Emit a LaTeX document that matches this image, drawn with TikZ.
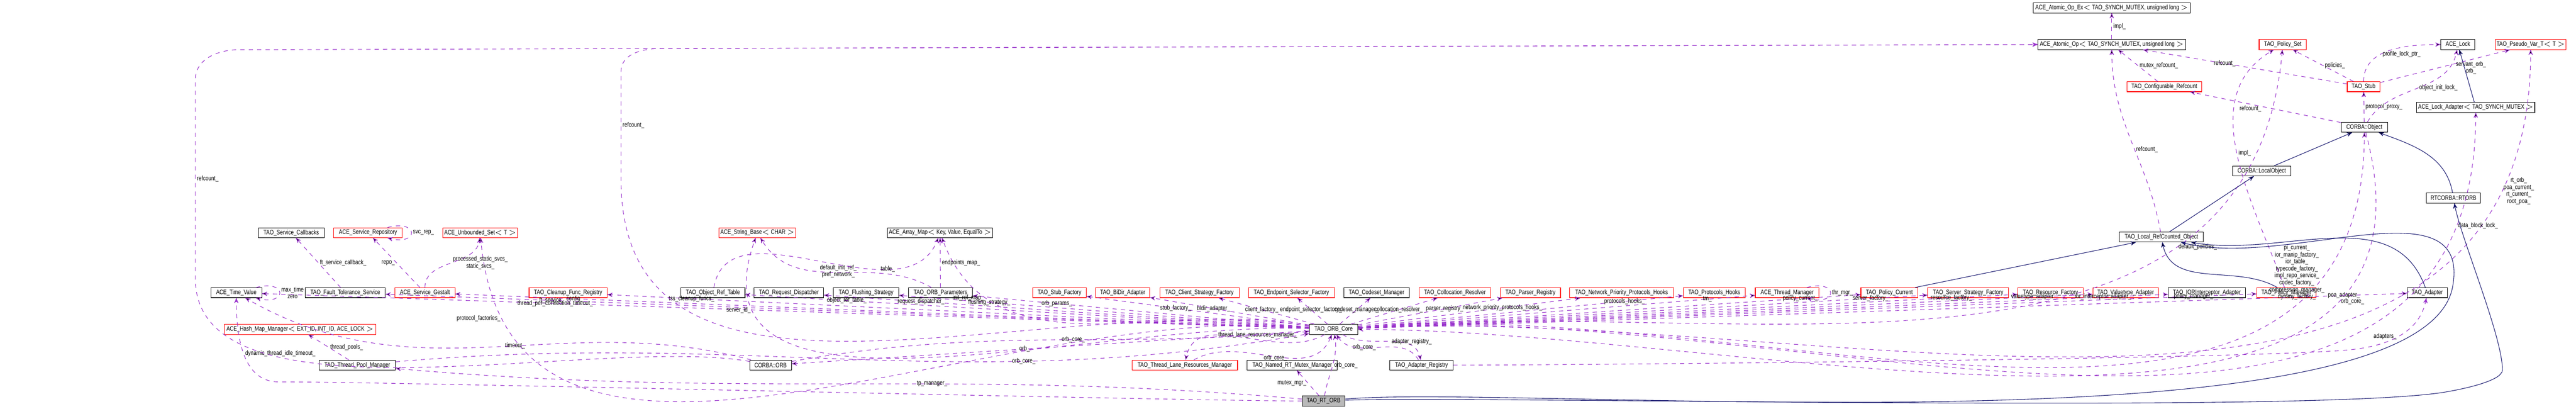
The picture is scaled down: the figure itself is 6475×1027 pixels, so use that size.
\documentclass[tikz,border=0pt]{standalone}
\usepackage{fontspec}
\setmainfont[FakeStretch=0.8]{Liberation Sans}
\usetikzlibrary{arrows,positioning,calc}
\definecolor{usecol}{RGB}{153,51,204}
\definecolor{inhcol}{RGB}{25,25,112}

\begin{document}
\begin{tikzpicture}[x=0.01cm,y=-0.01cm,
  cls/.style={draw,rectangle,fill=white,minimum height=0.25cm,inner sep=1pt,font=\fontsize{4.6}{5}\selectfont},
  clsblk/.style={cls,draw=black},
  clsred/.style={cls,draw=red},
  clsme/.style={cls,draw=black,fill=gray!55},
  use/.style={draw=usecol,dashed,thin,-stealth'},
  inh/.style={draw=inhcol,thin,-stealth'},
  lbl/.style={font=\fontsize{4.6}{5}\selectfont,align=center,inner sep=1pt,text=black}
]
\useasboundingbox (0,0) rectangle (6475,1027);

% top row
\node[clsblk,minimum width=1.66cm] at (732,585) (SvcCb) {TAO\_Service\_Callbacks};
\node[clsred,minimum width=1.72cm] at (925,585) (SvcRepo) {ACE\_Service\_Repository};
\node[clsred,minimum width=1.84cm] at (1207,585) (USet) {ACE\_Unbounded\_Set$<$ T $>$};
\node[clsred,minimum width=1.90cm] at (1904,585) (StrBase) {ACE\_String\_Base$<$ CHAR $>$};
\node[clsblk,minimum width=2.64cm] at (2363,585) (ArrMap) {ACE\_Array\_Map$<$ Key, Value, EqualTo $>$};

% middle row
\node[clsblk,minimum width=1.28cm] at (594,736) (TimeVal) {ACE\_Time\_Value};
\node[clsblk,minimum width=2.01cm] at (868,736) (FtSvc) {TAO\_Fault\_Tolerance\_Service};
\node[clsred,minimum width=1.51cm] at (1068,736) (Gestalt) {ACE\_Service\_Gestalt};
\node[clsred,minimum width=1.96cm] at (1428,736) (Cleanup) {TAO\_Cleanup\_Func\_Registry};
\node[clsblk,minimum width=1.61cm] at (1792,736) (ObjRef) {TAO\_Object\_Ref\_Table};
\node[clsblk,minimum width=1.75cm] at (1983,736) (ReqDisp) {TAO\_Request\_Dispatcher};
\node[clsblk,minimum width=1.64cm] at (2177,736) (Flush) {TAO\_Flushing\_Strategy};
\node[clsblk,minimum width=1.61cm] at (2364,736) (OrbPar) {TAO\_ORB\_Parameters};
\node[clsred,minimum width=1.35cm] at (2663,736) (StubF) {TAO\_Stub\_Factory};
\node[clsred,minimum width=1.36cm] at (2822,736) (BiDir) {TAO\_BiDir\_Adapter};
\node[clsred,minimum width=1.99cm] at (3015,736) (CliStr) {TAO\_Client\_Strategy\_Factory};
\node[clsred,minimum width=2.16cm] at (3246,736) (EndSel) {TAO\_Endpoint\_Selector\_Factory};
\node[clsblk,minimum width=1.64cm] at (3460,736) (Codeset) {TAO\_Codeset\_Manager};
\node[clsred,minimum width=1.81cm] at (3657,736) (Colloc) {TAO\_Collocation\_Resolver};
\node[clsred,minimum width=1.51cm] at (3847,736) (Parser) {TAO\_Parser\_Registry};
\node[clsred,minimum width=2.62cm] at (4076,736) (NetPri) {TAO\_Network\_Priority\_Protocols\_Hooks};
\node[clsred,minimum width=1.56cm] at (4309,736) (ProtHk) {TAO\_Protocols\_Hooks};
\node[clsred,minimum width=1.60cm] at (4492,736) (ThrMgr) {ACE\_Thread\_Manager};
\node[clsred,minimum width=1.43cm] at (4749,736) (PolCur) {TAO\_Policy\_Current};
\node[clsred,minimum width=2.03cm] at (4947,736) (SrvStr) {TAO\_Server\_Strategy\_Factory};
\node[clsred,minimum width=1.65cm] at (5154,736) (ResF) {TAO\_Resource\_Factory};
\node[clsred,minimum width=1.65cm] at (5343,736) (ValT) {TAO\_Valuetype\_Adapter};
\node[clsblk,minimum width=1.94cm] at (5547,736) (IorInt) {TAO\_IORInterceptor\_Adapter};
\node[clsred,minimum width=1.49cm] at (5747,736) (PolMgr) {TAO\_Policy\_Manager};
\node[clsblk,minimum width=1.01cm] at (6101,736) (Adapter) {TAO\_Adapter};

% core rows
\node[clsred,minimum width=3.80cm] at (754,828) (HashMap) {ACE\_Hash\_Map\_Manager$<$ EXT\_ID, INT\_ID, ACE\_LOCK $>$};
\node[clsblk,minimum width=1.22cm] at (3352,828) (OrbCore) {TAO\_ORB\_Core};
\node[clsblk,minimum width=1.92cm] at (898,918) (TPool) {TAO\_Thread\_Pool\_Manager};
\node[clsblk,minimum width=1.05cm] at (1937,918) (CorbaOrb) {CORBA::ORB};
\node[clsred,minimum width=2.65cm] at (2978,918) (TLane) {TAO\_Thread\_Lane\_Resources\_Manager};
\node[clsblk,minimum width=2.27cm] at (3248,918) (NamedMx) {TAO\_Named\_RT\_Mutex\_Manager};
\node[clsblk,minimum width=1.59cm] at (3573,918) (AdReg) {TAO\_Adapter\_Registry};
\node[clsme,minimum width=1.08cm] at (3327,1008) (RtOrb) {TAO\_RT\_ORB};

% upper right
\node[clsblk,minimum width=3.94cm] at (5308,20) (AtomEx) {ACE\_Atomic\_Op\_Ex$<$ TAO\_SYNCH\_MUTEX, unsigned long $>$};
\node[clsblk,minimum width=3.71cm] at (5308,112) (Atom) {ACE\_Atomic\_Op$<$ TAO\_SYNCH\_MUTEX, unsigned long $>$};
\node[clsred,minimum width=1.19cm] at (5738,112) (PolSet) {TAO\_Policy\_Set};
\node[clsblk,minimum width=0.86cm] at (6178,112) (Lock) {ACE\_Lock};
\node[clsred,minimum width=1.74cm] at (6361,112) (Pseudo) {TAO\_Pseudo\_Var\_T$<$ T $>$};
\node[clsred,minimum width=1.88cm] at (5440,218) (CfgRef) {TAO\_Configurable\_Refcount};
\node[clsred,minimum width=0.82cm] at (5941,218) (Stub) {TAO\_Stub};
\node[clsblk,minimum width=2.96cm] at (6223,270) (LockAd) {ACE\_Lock\_Adapter$<$ TAO\_SYNCH\_MUTEX $>$};
\node[clsblk,minimum width=1.17cm] at (5943,320) (Obj) {CORBA::Object};
\node[clsblk,minimum width=1.47cm] at (5685,430) (LocObj) {CORBA::LocalObject};
\node[clsblk,minimum width=1.36cm] at (6167,498) (RtCorba) {RTCORBA::RTORB};
\node[clsblk,minimum width=2.11cm] at (5433,596) (LocRef) {TAO\_Local\_RefCounted\_Object};

\coordinate (bendA) at (6165,720);
\coordinate (bendB) at (6290,930);
\coordinate (bendC) at (491,700);
\coordinate (bendD) at (491,200);
\coordinate (bendE) at (600,125);
\coordinate (bendF) at (1561,450);
\coordinate (bendG) at (1561,180);
\coordinate (bendK) at (1660,122);
\coordinate (bendH) at (700,960);
\coordinate (bendI) at (5900,880);
\coordinate (bendJ) at (6150,985);

% members of the core
\path[use]
(OrbCore) edge node[lbl,pos=0.72] {thread\_per\_connection\_timeout\_} (TimeVal)
(OrbCore) edge node[lbl,pos=0.82] {ft\_service\_} (FtSvc)
(OrbCore) edge node[lbl,pos=0.86] {config\_} (Gestalt)
(OrbCore) edge[out=175,in=-85] node[lbl,pos=0.9,left] {protocol\_factories\_} (USet)
(OrbCore) edge node[lbl,pos=0.88] {tss\_cleanup\_funcs\_} (Cleanup)
(OrbCore) edge[out=178,in=-110] node[lbl,pos=0.85,left] {server\_id\_} (StrBase)
(OrbCore) edge node[lbl,pos=0.82] {object\_ref\_table\_} (ObjRef)
(OrbCore) edge node[lbl,pos=0.8] {request\_dispatcher\_} (ReqDisp)
(OrbCore) edge node[lbl,pos=0.78] {flushing\_strategy\_} (Flush)
(OrbCore) edge node[lbl,pos=0.75] {orb\_params\_} (OrbPar)
(OrbCore) edge[out=170,in=-70] node[lbl,pos=0.8,left] {init\_ref\_map\_} (ArrMap)
(OrbCore) edge node[lbl,pos=0.6] {stub\_factory\_} (StubF)
(OrbCore) edge node[lbl,pos=0.6] {bidir\_adapter\_} (BiDir)
(OrbCore) edge node[lbl,pos=0.55] {client\_factory\_} (CliStr)
(OrbCore) edge node[lbl,pos=0.55] {endpoint\_selector\_factory\_} (EndSel)
(OrbCore) edge node[lbl,pos=0.55] {codeset\_manager\_} (Codeset)
(OrbCore) edge node[lbl,pos=0.55] {collocation\_resolver\_} (Colloc)
(OrbCore) edge node[lbl,pos=0.6] {parser\_registry\_} (Parser)
(OrbCore) edge node[lbl,pos=0.65] {network\_priority\_protocols\_hooks\_} (NetPri)
(OrbCore) edge node[lbl,pos=0.82] {protocols\_hooks\_} (ProtHk)
(OrbCore) edge node[lbl,pos=0.88] {tm\_} (ThrMgr)
(OrbCore) edge node[lbl,pos=0.88] {policy\_current\_} (PolCur)
(OrbCore) edge node[lbl,pos=0.9] {server\_factory\_} (SrvStr)
(OrbCore) edge node[lbl,pos=0.9] {resource\_factory\_} (ResF)
(OrbCore) edge node[lbl,pos=0.92] {valuetype\_adapter\_} (ValT)
(OrbCore) edge node[lbl,pos=0.92] {ior\_interceptor\_adapter\_} (IorInt)
(OrbCore) edge node[lbl,pos=0.93] {policy\_manager\_} (PolMgr)
(OrbCore) edge node[lbl,pos=0.94] {poa\_adapter\_} (Adapter)
(OrbCore) edge[out=-150,in=80] node[lbl,pos=0.4,above] {thread\_lane\_resources\_manager\_} (TLane)
(OrbCore) edge[out=-30,in=100] node[lbl,pos=0.5,right] {adapter\_registry\_} (AdReg)
(OrbCore) edge node[lbl,pos=0.55] {orb\_} (CorbaOrb)
(OrbCore) edge[out=5,in=-95] node[lbl,pos=0.75,right] {default\_policies\_} (PolSet)
(OrbCore) edge[out=5,in=-90] node[lbl,pos=0.85,left] {pi\_current\_\\ior\_manip\_factory\_\\ior\_table\_\\typecode\_factory\_\\impl\_repo\_service\_\\codec\_factory\_\\compression\_manager\_\\dynany\_factory\_} (Obj)
(OrbCore) edge[out=3,in=-90] node[lbl,pos=0.88,right] {rt\_orb\_\\poa\_current\_\\rt\_current\_\\root\_poa\_} (Pseudo)
(OrbCore) edge[out=4,in=-90] node[lbl,pos=0.9,right] {data\_block\_lock\_} (LockAd);
\draw[use] (OrbCore) to[out=172,in=-90] (bendF) -- node[lbl,right] {refcount\_} (bendG) to[out=90,in=180] (bendK) -- (Atom.west);

% users of the core
\path[use]
(TLane) edge[out=30,in=-110] node[lbl,pos=0.6,left] {orb\_core\_} (OrbCore)
(AdReg) edge[out=120,in=-60] node[lbl,pos=0.5,left] {orb\_core\_} (OrbCore)
(CorbaOrb) edge[out=10,in=185] node[lbl,pos=0.55] {orb\_core\_} (OrbCore)
(TPool) edge[out=5,in=190] node[lbl,pos=0.7] {orb\_core\_} (OrbCore)
(RtOrb) edge[out=80,in=-80] node[lbl,pos=0.5,right] {orb\_core\_} (OrbCore)
(Obj) edge[out=-75,in=0] node[lbl,pos=0.2,right] {orb\_core\_} (OrbCore)
(RtOrb) edge node[lbl,left] {mutex\_mgr\_} (NamedMx)
(RtOrb) edge[out=175,in=-5] node[lbl,pos=0.4] {tp\_manager\_} (TPool)
(TPool) edge node[lbl,right] {thread\_pools\_} (HashMap)
(CorbaOrb) edge[out=165,in=-30] node[lbl,pos=0.45] {timeout\_} (TimeVal);
\draw[use] (RtOrb) to[out=180,in=0,looseness=0.3] (bendH) to[out=180,in=-90] node[lbl,pos=0.5,right] {dynamic\_thread\_idle\_timeout\_} (TimeVal);
\draw[use] (AdReg) to[out=0,in=185,looseness=0.3] (bendI) to[out=5,in=-100] node[lbl,pos=0.5,left] {adapters\_} (Adapter);
\draw[use] (CorbaOrb) to[out=170,in=-90,looseness=0.7] (bendC) -- node[lbl,right] {refcount\_} (bendD) to[out=90,in=180] (bendE) -- (Atom.west);

% small members
\path[use]
(TimeVal) edge[loop right,looseness=8] node[lbl,right] {max\_time\\zero} (TimeVal)
(SvcRepo) edge[loop right,looseness=8] node[lbl,right] {svc\_rep\_} (SvcRepo)
(ThrMgr) edge[loop right,looseness=8] node[lbl,right] {thr\_mgr\_} (ThrMgr)
(Gestalt) edge node[lbl,left] {repo\_} (SvcRepo)
(Gestalt) edge[out=90,in=-95] node[lbl,right] {processed\_static\_svcs\_\\static\_svcs\_} (USet)
(FtSvc) edge node[lbl,right] {ft\_service\_callback\_} (SvcCb)
(OrbPar) edge[out=150,in=-60] node[lbl,pos=0.6,right] {default\_init\_ref\_\\pref\_network\_} (StrBase)
(OrbPar) edge node[lbl,right] {endpoints\_map\_} (ArrMap)
(ObjRef) edge[out=80,in=-110] node[lbl,pos=0.7,right] {table\_} (ArrMap)
(Atom) edge node[lbl,right] {impl\_} (AtomEx)
(CfgRef) edge node[lbl,right] {mutex\_refcount\_} (Atom)
(Stub) edge node[lbl,pos=0.6] {refcount\_} (Atom)
(Stub) edge node[lbl,right] {policies\_} (PolSet)
(Stub) edge[out=90,in=180] node[lbl,pos=0.4,right] {profile\_lock\_ptr\_} (Lock)
(Stub) edge node[lbl,pos=0.7,below] {servant\_orb\_\\orb\_} (Pseudo)
(Obj) edge node[lbl,pos=0.6,below] {refcount\_} (CfgRef)
(Obj) edge node[lbl,right] {protocol\_proxy\_} (Stub)
(Obj) edge[out=60,in=-100] node[lbl,pos=0.5,right] {object\_init\_lock\_} (Lock)
(LocRef) edge[out=100,in=-90] node[lbl,pos=0.45,right] {refcount\_} (Atom)
(PolMgr) edge[out=110,in=-150] node[lbl,pos=0.5,right] {impl\_} (PolSet);

% inheritance
\path[inh]
(LockAd) edge (Lock)
(LocObj) edge (Obj)
(RtCorba) edge[out=100,in=-20] (Obj)
(LocRef) edge (LocObj)
(PolCur) edge (LocRef)
(PolMgr) edge[out=150,in=-80] (LocRef)
(Adapter) edge[out=110,in=-10] (LocRef);
\draw[inh] (RtOrb) to[out=2,in=190,looseness=0.3] (bendJ) to[out=10,in=-90,looseness=0.5] (bendB) to[out=90,in=-80,looseness=0.5] (RtCorba);
\draw[inh] (RtOrb) to[out=5,in=-100,looseness=0.4] (bendA) to[out=80,in=-15] (LocRef);
\end{tikzpicture}
\end{document}
